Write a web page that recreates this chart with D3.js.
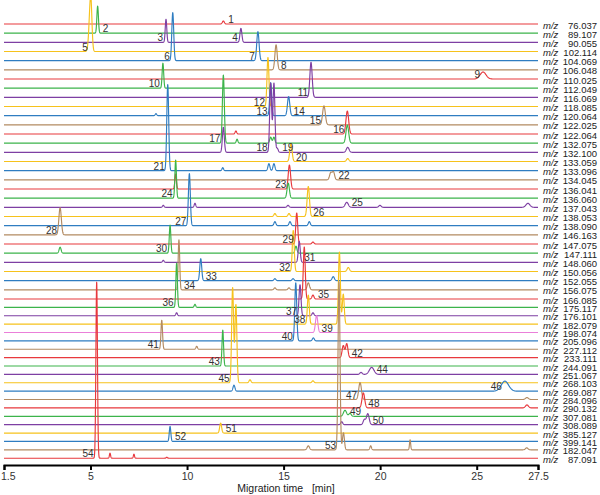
<!DOCTYPE html>
<html>
<head>
<meta charset="utf-8">
<script src="https://cdn.jsdelivr.net/npm/d3@7"></script>
<style>
  html, body { margin: 0; padding: 0; background: #fff; }
  svg { display: block; }
  text { font-family: "Liberation Sans", Arial, sans-serif; }
</style>
</head>
<body>
<div id="chart"></div>
<script>
// ---------------- DATA ----------------
const mzLabels = ["76.037","89.107","90.055","102.114","104.069","106.048","110.025","112.049","116.069","118.085",
  "120.064","122.025","122.064","132.075","132.100","133.059","133.096","134.045","136.041","136.060",
  "137.043","138.053","138.090","146.163","147.075","147.111","148.060","150.056","152.055","156.075",
  "166.085","175.117","176.101","182.079","198.074","205.096","227.112","233.111","244.091","251.067",
  "268.103","269.087","284.096","290.132","307.081","308.089","385.127","399.141","182.047","87.091"];

// peaks: [trace index, migration time (min), intensity (a.u.), width sigma (min)]
const peaks = [
  [0,11.88,3,0.05],
  [1,5.37,27,0.04],
  [2,8.91,23,0.04],[2,12.79,14,0.05],
  [3,5.01,56,0.06],
  [4,9.26,48,0.05],[4,13.67,29,0.06],
  [5,14.61,25,0.06],
  [6,25.26,7,0.12],
  [7,8.75,25,0.04],
  [8,16.42,35,0.06],
  [9,14.19,49,0.05],
  [10,8.39,2,0.04],[10,14.33,33,0.05],[10,15.26,19,0.06],
  [11,17.09,19,0.07],
  [12,12.53,3,0.04],[12,18.30,23,0.07],
  [13,11.88,68,0.05],[13,12.59,4,0.04],[13,14.33,6,0.05],[13,14.50,6,0.05],[13,18.30,18,0.07],
  [14,11.88,25,0.05],[14,14.33,69,0.05],[14,14.50,69,0.05],[14,14.67,4,0.05],[14,18.32,5,0.07],
  [15,15.38,18,0.06],[15,18.32,3,0.06],
  [16,9.00,86,0.05],[16,11.85,3,0.04],[16,14.24,7,0.05],[16,14.50,7,0.05],
  [17,17.44,7,0.06],[17,17.58,8,0.06],
  [18,9.41,15,0.04],[18,15.30,24,0.06],
  [19,9.41,38,0.04],[19,15.24,15,0.06],
  [20,8.77,2,0.04],[20,10.41,4,0.04],[20,15.23,2,0.05],[20,18.27,5,0.08],[20,19.99,2,0.06],[20,27.09,4,0.08],
  [21,14.55,3,0.05],[21,15.28,3,0.05],[21,16.28,30,0.06],
  [22,10.12,52,0.05],[22,14.55,4,0.05],[22,15.33,4,0.05],[22,16.33,4,0.05],
  [23,3.77,27,0.05],
  [24,15.68,31,0.05],[24,16.52,2,0.05],
  [25,3.77,6,0.04],[25,9.12,28,0.04],[25,15.64,7,0.05],
  [26,8.77,2,0.04],[26,15.81,21,0.05],
  [27,15.50,41,0.05],[27,18.35,4,0.06],
  [28,10.71,22,0.05],[28,14.55,2,0.05],[28,15.49,2,0.05],[28,17.57,4,0.06],
  [29,9.58,50,0.04],[29,14.55,2,0.05],[29,15.28,2,0.05],[29,16.28,7,0.06],
  [30,16.07,52,0.05],[30,16.52,4,0.05],
  [31,9.46,44,0.04],[31,10.41,3,0.04],
  [32,9.46,3,0.04],[32,15.85,31,0.05],[32,16.52,3,0.05],
  [33,16.28,29,0.05],[33,17.89,72,0.05],[33,18.09,30,0.05],
  [34,16.71,17,0.06],
  [35,15.63,58,0.05],[35,16.54,3,0.05],
  [36,8.69,29,0.04],[36,10.50,3,0.04],
  [37,18.09,12,0.06],[37,18.27,14,0.06],
  [38,11.85,36,0.04],
  [39,19.01,2,0.06],[39,19.56,7,0.12],
  [40,12.36,95,0.05],[40,12.53,78,0.05],[40,13.26,3,0.05],[40,16.52,2,0.05],
  [41,12.43,6,0.05],[41,26.15,10,0.15],
  [42,18.96,17,0.07],[42,27.05,2,0.06],
  [43,19.13,15,0.07],[43,27.05,3,0.06],
  [44,18.18,6,0.08],[44,18.44,3,0.06],
  [45,18.01,3,0.05],[45,19.18,5,0.06],[45,19.36,11,0.07],
  [46,11.74,10,0.05],
  [47,9.12,15,0.04],
  [48,16.28,4,0.06],[48,17.87,168,0.05],[48,18.10,17,0.05],[48,19.51,4,0.04],[48,21.55,10,0.03],[48,27.04,2,0.05],
  [49,5.32,176,0.04],[49,6.01,5,0.03],[49,7.25,4,0.03],[49,8.95,1,0.03]
];

// peak numbers: [label, trace index, migration time (min), side]
const peakLabels = [
  ["1",0,11.88,"R"],["2",1,5.37,"R"],["3",2,8.91,"L"],["4",2,12.79,"L"],["5",3,5.01,"L"],
  ["6",4,9.26,"L"],["7",4,13.67,"L"],["8",5,14.61,"R"],["9",6,25.26,"L"],["10",7,8.75,"L"],
  ["11",8,16.42,"L"],["12",9,14.19,"L"],["13",10,14.33,"L"],["14",10,15.26,"R"],["15",11,17.09,"L"],
  ["16",12,18.30,"L"],["17",13,11.88,"L"],["18",14,14.33,"L"],["19",14,14.67,"R"],["20",15,15.38,"R"],
  ["21",16,9.00,"L"],["22",17,17.58,"R"],["23",18,15.30,"L"],["24",19,9.41,"L"],["25",20,18.27,"R"],
  ["26",21,16.28,"R"],["27",22,10.12,"L"],["28",23,3.77,"L"],["29",24,15.68,"L"],["30",25,9.12,"L"],
  ["31",26,15.81,"R"],["32",27,15.50,"L"],["33",28,10.71,"R"],["34",29,9.58,"R"],["35",30,16.52,"R"],
  ["36",31,9.46,"L"],["37",32,15.85,"L"],["38",33,16.28,"L"],["39",34,16.71,"R"],["40",35,15.63,"L"],
  ["41",36,8.69,"L"],["42",37,18.27,"R"],["43",38,11.85,"L"],["44",39,19.56,"R"],["45",40,12.36,"L"],
  ["46",41,26.15,"L"],["47",42,18.96,"L"],["48",43,19.13,"R"],["49",44,18.18,"R"],["50",45,19.36,"R"],
  ["51",46,11.74,"R"],["52",47,9.12,"R"],["53",48,17.87,"L"],["54",49,5.32,"L"]
];

const xTicks = [1.5, 5, 10, 15, 20, 25, 27.5];
const xTitle = "Migration time   [min]";

// ---------------- DRAW ----------------
const W = 600, H = 495;
const palette = ["#e8383d", "#3cb44b", "#7e3fa3", "#f6c21c", "#2f7dc1", "#b38b62"];
const pink = "#ea7fd9";
const colorOf = i => i === 34 ? pink : (i < 34 ? palette[i % 6] : palette[(i - 1) % 6]);

const x = d3.scaleLinear().domain([1.5, 5, 25, 27.5]).range([4, 90.5, 476.7, 538]);
const rowY = d3.scaleLinear().domain([0, 30, 49]).range([24, 299, 458.2]);
const amp = d3.scaleLinear().domain([0, 100]).range([0, 100]);

const svg = d3.select("#chart").append("svg").attr("width", W).attr("height", H);

const tMin = 1.5, tMax = 27.5;
const line = d3.line().x(d => x(d[0])).y(d => d[1]);

mzLabels.forEach((lab, i) => {
  const pk = peaks.filter(p => p[0] === i);
  let ts = d3.range(tMin, tMax + 1e-9, 0.025);
  pk.forEach(p => {
    const s = p[3];
    ts = ts.concat(d3.range(p[1] - 5 * s, p[1] + 5 * s, s / 6));
  });
  ts = ts.filter(t => t >= tMin && t <= tMax).sort((a, b) => a - b);
  const base = rowY(i);
  const pts = ts.map(t => {
    let v = 0;
    pk.forEach(p => { const z = (t - p[1]) / p[3]; v += p[2] * Math.exp(-0.5 * z * z); });
    return [t, base - amp(v)];
  });
  svg.append("path")
    .attr("d", line(pts))
    .attr("fill", "none")
    .attr("stroke", colorOf(i))
    .attr("stroke-width", 1.15)
    .attr("stroke-linejoin", "round");
});

// right-hand m/z labels
const lab = svg.append("g").attr("font-size", 9.5).attr("fill", "#222");
mzLabels.forEach((m, i) => {
  const y = rowY(i) + 1;
  lab.append("text").attr("x", 543).attr("y", y).attr("dominant-baseline", "central")
    .attr("font-style", "italic").text("m/z");
  lab.append("text").attr("x", 597).attr("y", y).attr("dominant-baseline", "central")
    .attr("text-anchor", "end").text(m);
});

// peak numbers
const pl = svg.append("g").attr("font-size", 10).attr("fill", "#333");
peakLabels.forEach(([t, r, tm, side]) => {
  pl.append("text")
    .attr("x", x(tm) + (side === "R" ? 5 : -3))
    .attr("y", rowY(r) - 1)
    .attr("text-anchor", side === "R" ? "start" : "end")
    .text(t);
});

// x axis
const axis = d3.axisBottom(x).tickValues(xTicks).tickFormat(d3.format("")).tickSizeOuter(0).tickSize(5).tickPadding(3);
const gx = svg.append("g").attr("transform", "translate(0,465)").call(axis);
gx.select(".domain").attr("stroke", "#000").attr("stroke-width", 2);
gx.selectAll(".tick line").attr("stroke", "#000").attr("stroke-width", 2);
gx.selectAll(".tick text").attr("font-size", 10.5).attr("fill", "#333")
  .attr("font-family", "'Liberation Sans', Arial, sans-serif");
gx.selectAll(".tick text").filter(d => d === xTicks[0]).attr("text-anchor", "start").attr("dx", -3.5);

svg.append("text").attr("x", 286).attr("y", 492).attr("text-anchor", "middle")
  .attr("font-size", 10.5).attr("fill", "#222").style("white-space", "pre").text(xTitle);
</script>
</body>
</html>
